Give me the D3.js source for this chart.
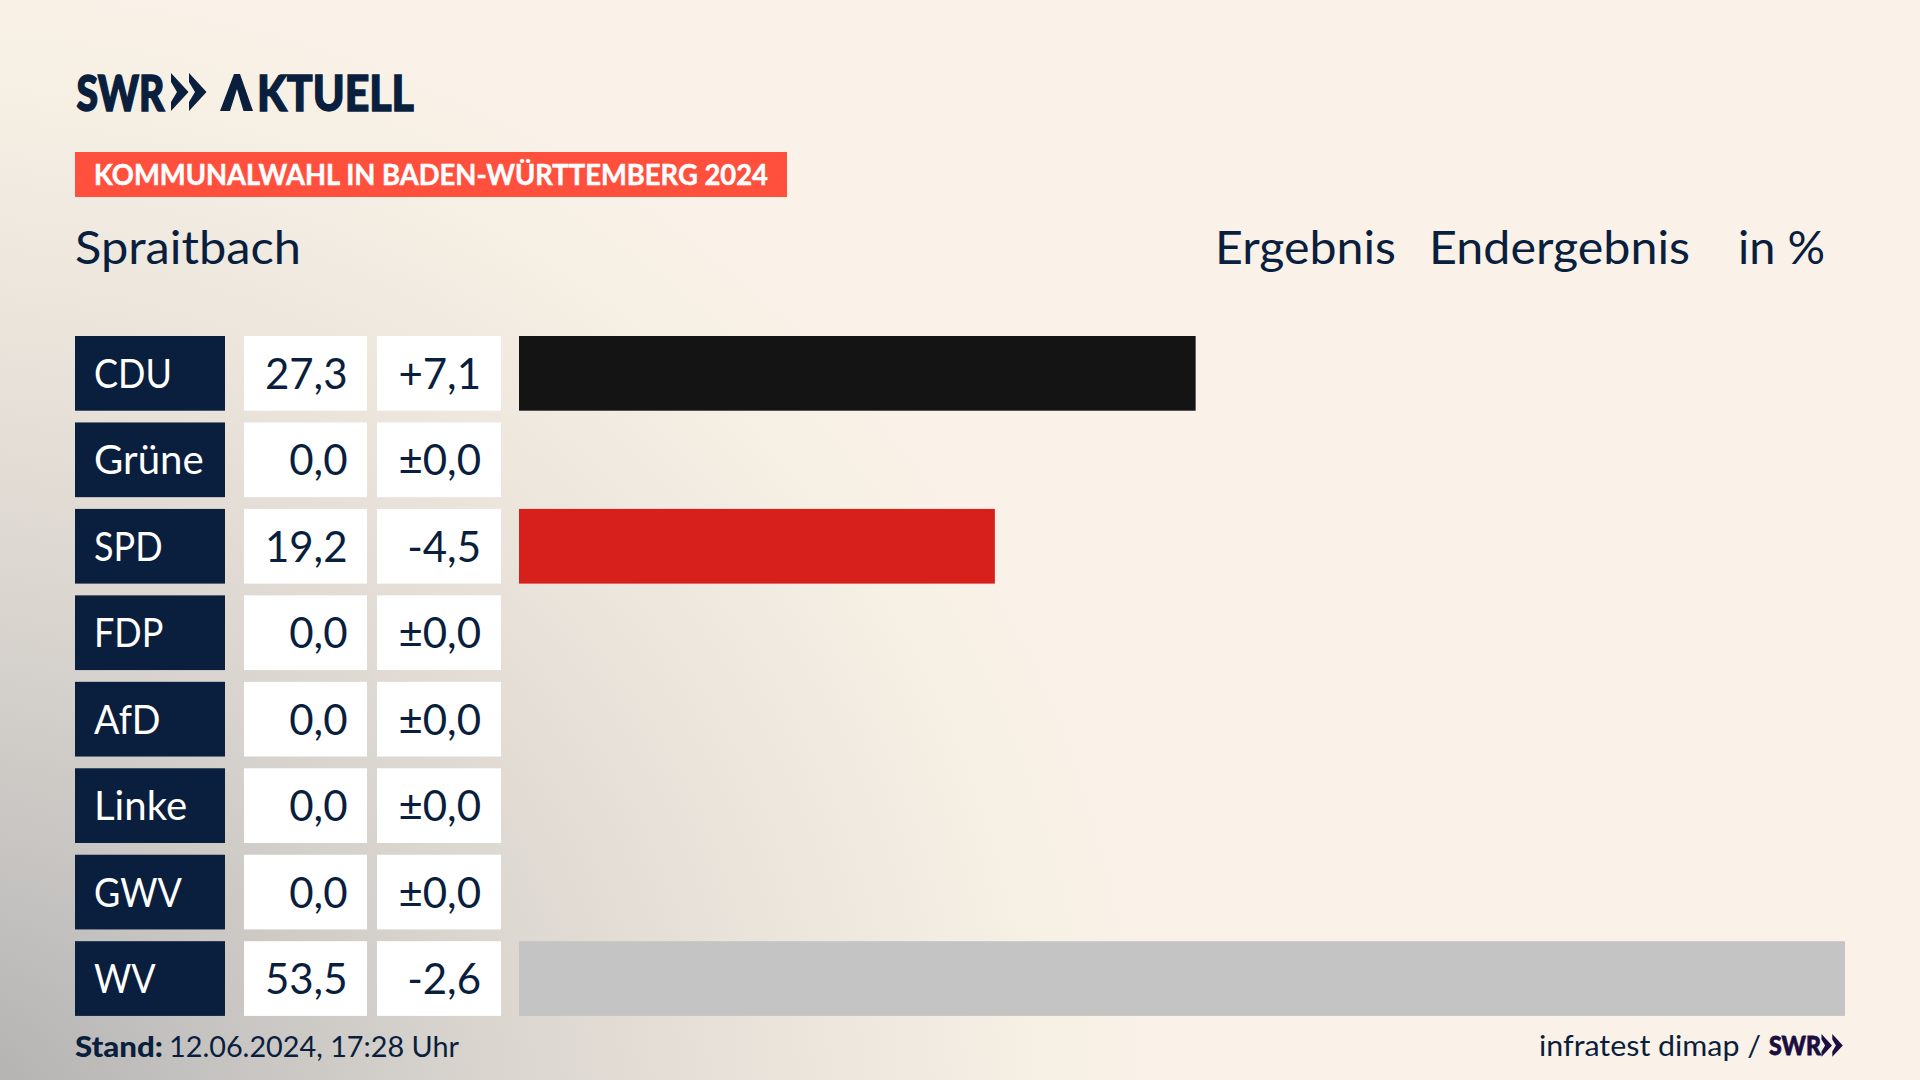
<!DOCTYPE html>
<html lang="de"><head><meta charset="utf-8">
<script src="https://cdn.jsdelivr.net/npm/d3@7"></script>
<style>html,body{margin:0;padding:0;background:#FAF2E8;overflow:hidden}svg{display:block}text{font-family:Lato,"Noto Sans",sans-serif}</style>
</head><body><svg id="c" width="1920" height="1080"></svg>
<script>
const parties=["CDU","Grüne","SPD","FDP","AfD","Linke","GWV","WV"];
const results=[27.3,0,19.2,0,0,0,0,53.5];
const changes=[7.1,0,-4.5,0,0,0,0,-2.6];
const barColors=["#141414","#1a9a3c","#D7201C","#ffe000","#0a8fd0","#b0006a","#888888","#C4C4C4"];
const navy="#0A1E3D";
const svg=d3.select("#c");
const defs=svg.append("defs");
const g=defs.append("radialGradient").attr("id","bg").attr("gradientUnits","userSpaceOnUse")
 .attr("cx",0).attr("cy",0).attr("r",1)
 .attr("gradientTransform","translate(-60,1130) scale(1240,1180)");
[[0,"#AEAEAC"],[.2,"#C3C1BF"],[.45,"#DAD5CF"],[.7,"#ECE5DC"],[.9,"#F7F0E5"],[1,"#FAF2E8"]]
 .forEach(s=>g.append("stop").attr("offset",s[0]).attr("stop-color",s[1]));
svg.append("rect").attr("width",1920).attr("height",1080).attr("fill","#FAF2E8");
svg.append("rect").attr("width",1920).attr("height",1080).attr("fill","url(#bg)");

function chevrons(sel,x,y,s,fill){
 [0,18].forEach(dx=>sel.append("path").attr("d","M0 0 L17.5 19 L0 38 L0 29 L6 19 L0 9Z")
  .attr("transform",`translate(${x+dx*s},${y}) scale(${s})`).attr("fill",fill));
}
function t(sel,str,x,y,size,o={}){
 const e=sel.append("text").attr("x",x).attr("y",y).attr("font-size",size).attr("fill",o.fill||navy)
  .attr("font-weight",o.w||400).attr("text-anchor",o.a||"start").text(str);
 if(o.len){e.attr("textLength",o.len).attr("lengthAdjust","spacingAndGlyphs");}
 if(o.stroke){e.attr("stroke",o.fill||navy).attr("stroke-width",o.stroke);}
 return e;
}
// logo
t(svg,"SWR",76.5,111,50,{w:900,len:88,stroke:1.6});
chevrons(svg,171,73,1,navy);
const logo=svg.append("text").attr("y",111).attr("font-size",50).attr("font-weight",900).attr("fill",navy).attr("stroke",navy).attr("stroke-width",1.4);
logo.append("tspan").attr("x",220).attr("fill-opacity",0).attr("stroke-opacity",0).text("A");
logo.append("tspan").attr("x",257).attr("textLength",157).attr("lengthAdjust","spacingAndGlyphs").text("KTUELL");
svg.append("path").attr("d","M220 111 L234 74 L240 74 L253 111 L243.5 111 L237 89 L230 111Z").attr("fill",navy);
// banner
svg.append("rect").attr("x",75).attr("y",152).attr("width",712).attr("height",45).attr("fill","#FF4F3D");
t(svg,"KOMMUNALWAHL IN BADEN-WÜRTTEMBERG 2024",94,185,28,{w:700,fill:"#fff",len:674,stroke:.5});
// header
t(svg,"Spraitbach",75,264,46,{len:226});
t(svg,"Ergebnis",1215,264,46,{len:181});
t(svg,"Endergebnis",1429,264,46,{len:261});
t(svg,"in %",1738,264,46,{len:87});
// rows
const y=d3.scalePoint().domain(parties).range([336,941.2]);
const x=d3.scaleLinear().domain([0,53.5]).range([519,1845]);
const rowH=74.7;
const fmt=v=>d3.format(".1f")(Math.abs(v)).replace(".",",");
const fmtD=v=>(v===0?"±":v>0?"+":"-")+fmt(v);
const rows=svg.selectAll("g.row").data(parties).join("g").attr("class","row").attr("transform",d=>`translate(0,${y(d)})`);
rows.append("rect").attr("x",75).attr("width",150).attr("height",rowH).attr("fill",navy);
rows.append("rect").attr("x",244).attr("width",123).attr("height",rowH).attr("fill","#fff");
rows.append("rect").attr("x",377).attr("width",124).attr("height",rowH).attr("fill","#fff");
rows.append("rect").attr("x",x(0)).attr("height",rowH).attr("width",(d,i)=>x(results[i])-x(0)).attr("fill",(d,i)=>barColors[i]);
rows.append("text").attr("x",94).attr("y",52).attr("font-size",40).attr("fill","#fff").text(d=>d)
 .attr("lengthAdjust","spacingAndGlyphs")
 .attr("textLength",function(d){const lower=(d.match(/[a-zü]/g)||[]).length/d.length;return this.getComputedTextLength()*(0.9+0.13*lower);});
rows.append("text").attr("x",347.5).attr("y",53).attr("font-size",42).attr("fill",navy).attr("text-anchor","end").text((d,i)=>fmt(results[i]));
rows.append("text").attr("x",481).attr("y",53).attr("font-size",42).attr("fill",navy).attr("text-anchor","end").text((d,i)=>fmtD(changes[i]));
// footer
t(svg,"Stand:",75,1057,29,{w:900,len:88});
t(svg,"12.06.2024, 17:28 Uhr",169,1057,29,{len:290});
t(svg,"infratest dimap /",1539,1056,29,{len:222});
t(svg,"SWR",1769,1055,27,{w:900,fill:"#1B0F3F",len:52,stroke:.8});
chevrons(svg,1821.5,1034,.6,"#1B0F3F");
</script></body></html>
